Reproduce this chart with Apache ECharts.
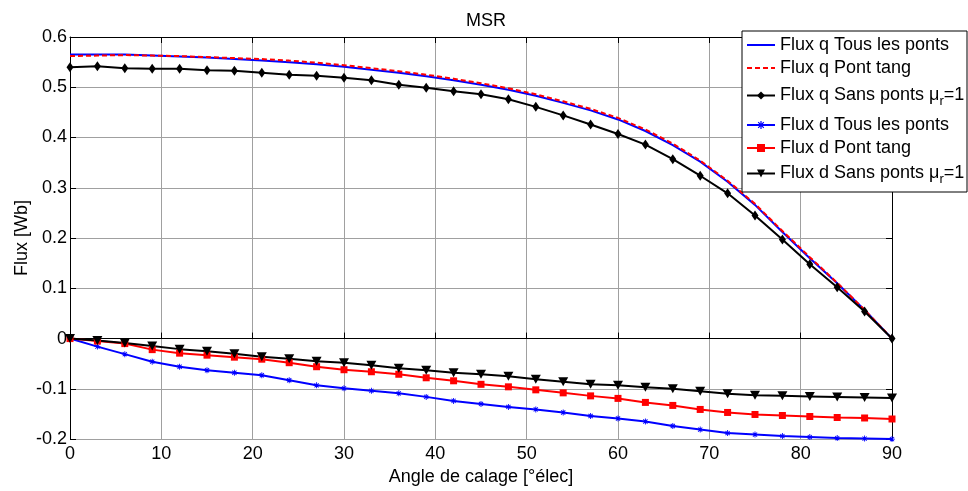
<!DOCTYPE html>
<html><head><meta charset="utf-8">
<script src="https://cdn.jsdelivr.net/npm/echarts@6/dist/echarts.min.js"></script>
<style>html,body{margin:0;padding:0;background:#fff}#c{width:968px;height:491px}</style>
</head><body><div id="c"></div>
<script>
const angles = [0,3,6,9,12,15,18,21,24,27,30,33,36,39,42,45,48,51,54,57,60,63,66,69,72,75,78,81,84,87,90];
const fluxQTous = [0.565,0.565,0.565,0.563,0.561,0.559,0.556,0.553,0.550,0.546,0.541,0.535,0.529,0.522,0.514,0.505,0.495,0.483,0.469,0.454,0.436,0.413,0.385,0.352,0.312,0.266,0.212,0.160,0.110,0.057,0];
const fluxQTang = [0.562,0.563,0.564,0.563,0.562,0.560,0.558,0.556,0.553,0.549,0.544,0.538,0.532,0.525,0.517,0.508,0.498,0.486,0.472,0.457,0.439,0.416,0.388,0.354,0.314,0.268,0.214,0.162,0.111,0.057,0];
const fluxQSans = [0.540,0.542,0.538,0.537,0.537,0.534,0.533,0.529,0.525,0.523,0.519,0.514,0.505,0.499,0.492,0.486,0.476,0.461,0.444,0.426,0.407,0.386,0.357,0.324,0.289,0.245,0.197,0.148,0.102,0.054,0];
const fluxDTous = [0,-0.016,-0.031,-0.046,-0.056,-0.063,-0.068,-0.073,-0.083,-0.093,-0.099,-0.104,-0.109,-0.116,-0.124,-0.130,-0.136,-0.141,-0.147,-0.154,-0.159,-0.165,-0.174,-0.181,-0.188,-0.191,-0.194,-0.196,-0.198,-0.199,-0.200];
const fluxDTang = [0,-0.005,-0.010,-0.022,-0.029,-0.033,-0.037,-0.041,-0.048,-0.056,-0.062,-0.066,-0.071,-0.078,-0.084,-0.091,-0.096,-0.102,-0.108,-0.114,-0.119,-0.127,-0.133,-0.141,-0.147,-0.151,-0.153,-0.155,-0.157,-0.158,-0.160];
const fluxDSans = [0,-0.004,-0.009,-0.015,-0.021,-0.025,-0.030,-0.036,-0.040,-0.045,-0.048,-0.053,-0.059,-0.063,-0.068,-0.071,-0.075,-0.081,-0.086,-0.091,-0.093,-0.097,-0.100,-0.105,-0.110,-0.113,-0.114,-0.115,-0.116,-0.117,-0.118];
const seriesNames = ['Flux q Tous les ponts','Flux q Pont tang','Flux q Sans ponts \u03bcr=1','Flux d Tous les ponts','Flux d Pont tang','Flux d Sans ponts \u03bcr=1'];
const xTicks = [0,10,20,30,40,50,60,70,80,90];
const yTicks = [-0.2,-0.1,0,0.1,0.2,0.3,0.4,0.5,0.6];

const FONT = 'Liberation Sans, Arial, sans-serif';
const pair = ys => angles.map((a,i)=>[a, ys[i]]);
const star = 'path://M-0.15,-1L0.15,-1L0.15,1L-0.15,1Z M-1,-0.15L1,-0.15L1,0.15L-1,0.15Z M-0.594,-0.806L0.806,0.594L0.594,0.806L-0.806,-0.594Z M0.806,-0.594L-0.594,0.806L-0.806,0.594L0.594,-0.806Z';

const chart = echarts.init(document.getElementById('c'), null, {renderer:'canvas'});
const legendTops = [35, 58, 83, 115, 138, 161];
const legends = seriesNames.map((n,i)=>{
  const lg = {
    data:[n], left: 746, top: legendTops[i], padding: 0, z: 60,
    itemWidth: 28, itemHeight: 10, itemGap: 0,
    selectedMode: false,
    textStyle: {fontFamily: FONT, fontSize: 18, color:'#000', lineHeight: 20,
      rich: {a:{fontFamily: FONT, fontSize:18, color:'#000', lineHeight:20},
             s:{fontFamily: FONT, fontSize:13, color:'#000', lineHeight:20, padding:[12,0,0,0]}}},
    formatter: name => {
      if (name.indexOf('\u03bcr') >= 0) {
        const p = name.split('\u03bcr');
        return '{a|' + p[0] + '\u03bc}{s|r}{a|' + p[1] + '}';
      }
      return name;
    }
  };
  if (i < 2) lg.itemStyle = {opacity: 0};
  return lg;
});

const mk = (name, ys, color, extra) => Object.assign({
  name, type:'line', data: pair(ys), xAxisIndex:0, yAxisIndex:0,
  showSymbol:false, symbol:'none', clip:false, animation:false,
  lineStyle:{color, width:2}, itemStyle:{color}
}, extra);

chart.setOption({
  animation:false,
  backgroundColor:'#fff',
  title:{text:'MSR', left: 481, textAlign:'center', top:7,
    textStyle:{fontFamily:FONT, fontSize:18, fontWeight:'normal', color:'#000'}},
  legend: legends,
  graphic:[{type:'rect', z:50, shape:{x:742, y:31, width:225, height:161},
    style:{fill:'#fff', stroke:'#000', lineWidth:1}}],
  grid:{left:70, right:76, top:37, bottom:49, containLabel:false},
  xAxis:[
    {type:'value', min:0, max:90, interval:10, position:'bottom',
     name:'Angle de calage [\u00b0\u00e9lec]', nameLocation:'middle', nameGap:27,
     nameTextStyle:{fontFamily:FONT, fontSize:18, color:'#000'},
     axisLine:{show:true, lineStyle:{color:'#000', width:1}},
     axisTick:{show:true, inside:true, length:6, lineStyle:{color:'#000'}},
     axisLabel:{fontFamily:FONT, fontSize:18, color:'#000', margin:6},
     splitLine:{show:true, lineStyle:{color:'#a0a0a0', width:1}}},
    {type:'value', min:0, max:90, interval:10, position:'top',
     axisLine:{show:true, onZero:false, lineStyle:{color:'#000', width:1}},
     axisTick:{show:true, inside:true, length:6, lineStyle:{color:'#000'}},
     axisLabel:{show:false}, splitLine:{show:false}}
  ],
  yAxis:[
    {type:'value', min:-0.2, max:0.6, interval:0.1, position:'left',
     name:'Flux [Wb]', nameLocation:'middle', nameGap:39, nameRotate:90, nameMoveOverlap:false,
     nameTextStyle:{fontFamily:FONT, fontSize:18, color:'#000'},
     axisLine:{show:true, onZero:false, lineStyle:{color:'#000', width:1}},
     axisTick:{show:true, inside:true, length:6, lineStyle:{color:'#000'}},
     axisLabel:{fontFamily:FONT, fontSize:18, color:'#000', margin:3,
       formatter: v => String(Math.round(v*10)/10)},
     splitLine:{show:true, lineStyle:{color:'#a0a0a0', width:1}}},
    {type:'value', min:-0.2, max:0.6, interval:0.1, position:'right',
     axisLine:{show:true, onZero:false, lineStyle:{color:'#000', width:1}},
     axisTick:{show:true, inside:true, length:6, lineStyle:{color:'#000'}},
     axisLabel:{show:false}, splitLine:{show:false}}
  ],
  series:[
    mk(seriesNames[0], fluxQTous, '#0000ff', {}),
    mk(seriesNames[1], fluxQTang, '#ff0000', {lineStyle:{color:'#ff0000', width:2, type:[5,3]}}),
    mk(seriesNames[2], fluxQSans, '#000000', {showSymbol:true, symbol:'diamond', symbolSize:[7,10]}),
    mk(seriesNames[3], fluxDTous, '#0000ff', {showSymbol:true, symbol:star, symbolSize:6}),
    mk(seriesNames[4], fluxDTang, '#ff0000', {showSymbol:true, symbol:'rect', symbolSize:7}),
    mk(seriesNames[5], fluxDSans, '#000000', {showSymbol:true, symbol:'triangle', symbolRotate:180, symbolSize:[10,9]})
  ]
});
</script></body></html>
